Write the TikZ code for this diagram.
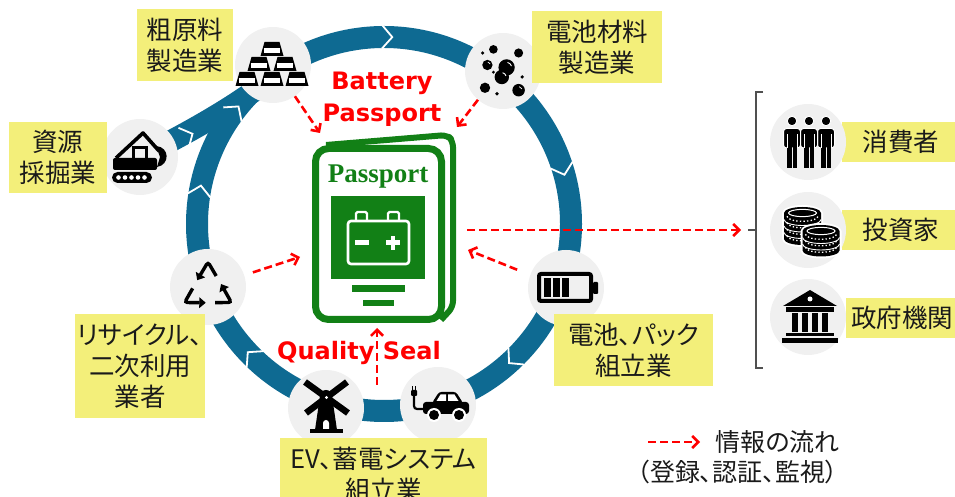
\documentclass[tikz,border=0pt]{standalone}
\usepackage{fontspec}
\newfontfamily\jpfont{Noto Sans CJK JP}[RawFeature=+palt]
\newfontfamily\tagfont{DejaVu Sans}
\newfontfamily\covfont{Liberation Serif}
\usetikzlibrary{arrows.meta}

\definecolor{ringblue}{RGB}{14,106,146}
\definecolor{boxyellow}{RGB}{243,239,122}
\definecolor{iconbg}{RGB}{240,240,240}
\definecolor{ppgreen}{RGB}{18,128,22}
\definecolor{flowred}{RGB}{255,0,0}
\definecolor{txt}{RGB}{26,26,26}
\definecolor{brk}{RGB}{80,80,80}

% one gold bar: #1 = centre x, #2 = base y
\newcommand\goldbar[2]{%
  \fill (#1-11.5,#2) -- (#1+11.5,#2) -- (#1+7.5,#2+14) -- (#1-7.5,#2+14) -- cycle;
  \fill[white] (#1-8,#2+2.5) rectangle (#1+8,#2+8);}

% one standing figure centred at x = #1
\newcommand\drawperson[1]{%
  \filldraw[draw=white, line width=1pt] (#1,21) circle (4.8);
  \filldraw[draw=white, line width=1pt, rounded corners=3pt]
    (#1-8.5,-6) -- (#1-8.5,13.5) -- (#1+8.5,13.5) -- (#1+8.5,-6) -- cycle;
  \fill (#1-5.3,-26) rectangle (#1-0.5,-4);
  \fill (#1+0.5,-26) rectangle (#1+5.3,-4);
  \draw[white, line width=0.9pt] (#1-5,-6) -- (#1-5,8) (#1+5,-6) -- (#1+5,8);}

% stack of coins: #1 x, #2 top y, #3 layers, #4 inner seams
\newcommand\coinstack[4]{%
  \fill[white] (#1-20.5,#2) -- (#1-20.5,#2-#3*6.5) arc (180:360:20.5 and 8)
    -- (#1+20.5,#2) arc (0:180:20.5 and 8) -- cycle;
  \fill (#1-18.5,#2) -- (#1-18.5,#2-#3*6.5) arc (180:360:18.5 and 6)
    -- (#1+18.5,#2) arc (0:180:18.5 and 6) -- cycle;
  \draw[white, line width=1pt] (#1,#2) ellipse (14 and 3.6);
  \foreach \k in {#4}
    \draw[white, line width=0.9pt] (#1-18.5,#2-\k*6.5) arc (180:360:18.5 and 6);
  \foreach \k in {1,...,#3}
    \draw[white, line width=1.3pt, dash pattern=on 1.4pt off 2.2pt]
      (#1-15.5,#2-\k*6.5+3.2) arc (180:360:15.5 and 5);}

\begin{document}
\begin{tikzpicture}[x=1pt,y=1pt,
  lbl/.style={fill=boxyellow, inner sep=0pt, align=center, text=txt,
    font=\jpfont\fontsize{25.5}{31}\selectfont},
  disc/.style={circle, fill=iconbg, minimum size=76pt, inner sep=0pt},
  band/.style={draw=ringblue, line width=22pt},
  chev/.style={white, line width=1.8pt, line join=miter},
  flow/.style={draw=flowred, line width=2.6pt, dash pattern=on 8pt off 4pt,
    -{Straight Barb[length=6pt,width=12pt]}},
  tag/.style={text=flowred, align=center,
    font=\tagfont\bfseries\fontsize{24}{32}\selectfont},
  bracketline/.style={draw=brk, line width=1.3pt},
  plain/.style={text=txt, font=\jpfont\fontsize{25}{30}\selectfont},
]
\useasboundingbox (0,0) rectangle (955,497);
\clip (0,0) rectangle (955,497);

% ---- value-chain ring and the mining branch ----
\draw[band] (384,273) circle (187);
\draw[band] (140,340) .. controls (180,360) and (220,382) .. (254,406);
\foreach \a in {142.6,169.7,89,16.8,-46.5,224.8}
  \draw[chev, shift={(384,273)}, rotate=\a, shift={(187,0)}]
    (-11.5,5) -- (0,-5) -- (11.5,5);
\draw[chev, shift={(188,361)}, rotate=116] (-11.5,5) -- (0,-5) -- (11.5,5);

% ---- stage discs ----
\node[disc] (c-mine) at (140,340) {};
\node[disc] (c-raw)  at (273,432) {};
\node[disc] (c-mat)  at (503,426) {};
\node[disc] (c-bat)  at (566,209) {};
\node[disc] (c-car)  at (438,92) {};
\node[disc] (c-mill) at (326,89) {};
\node[disc] (c-rec)  at (208,210) {};

% excavator
\begin{scope}[shift={(140,340)}]
  \fill[rounded corners=5.5pt] (-28,-26) rectangle (12,-15);
  \foreach \x in {-21.5,-15,-8.5,-2,4.5} \fill[white] (\x,-20.5) circle (2.3);
  \fill[rounded corners=2pt] (-27,-13) rectangle (17,-1);
  \draw[line width=3pt] (-6.5,-1) -- (-6.5,9) -- (6.5,9) -- (6.5,-1);
  \draw[line width=3.6pt, line join=round] (-24,-1) -- (3,24) -- (19,6);
  \fill (16,11) .. controls (30,10) and (30,-8) .. (17,-10) -- (20,0) -- cycle;
\end{scope}

% gold bars
\begin{scope}[shift={(273,432)}]
  \goldbar{-26}{-21} \goldbar{-1}{-21} \goldbar{24}{-21}
  \goldbar{-14}{-6} \goldbar{12}{-6}
  \goldbar{-1}{9}
\end{scope}

% material particles
\begin{scope}[shift={(503,426)}, scale=1.2]
  \foreach \x/\y/\r in {-8/18/3.6, 13/15/3.8, -17/15/1.5, -13/5/4.3, 3/3/6.8,
      -1/-5/6, -15/-14/4.3, 13/-16/5.2, -5/-19/1.5, 16/-5/1.5, -8/-1/1.3}
    \fill (\x,\y) circle (\r);
  \draw[white, line width=0.9pt] (3,3) ++(15:4.2) arc (15:80:4.2);
  \draw[white, line width=0.9pt] (-1,-5) ++(15:3.6) arc (15:80:3.6);
  \draw[white, line width=0.7pt] (13,-16) ++(20:3) arc (20:80:3);
  \draw[white, line width=0.7pt] (-13,5) ++(20:2.5) arc (20:80:2.5);
\end{scope}

% recycling symbol
\begin{scope}[shift={(208,208)}]
  \foreach \r in {0,120,240}
    \draw[line width=3.4pt, rounded corners=3pt, rotate=\r,
          -{Triangle[length=6.5pt,width=10.5pt]}]
      (8.2,13) -- (0,27) -- (-10.8,8.8);
\end{scope}

% windmill
\begin{scope}[shift={(326,89)}]
  \draw[line width=6.5pt] (-21,26) -- (22,-5);
  \draw[line width=6.5pt] (21,26) -- (-20,-5);
  \fill (-6,12) -- (6,12) -- (11,-22) -- (-11,-22) -- cycle;
  \fill (-6,12) arc (180:0:6);
  \fill (-16,-25) rectangle (17,-21);
  \fill[white] (-3,-21) -- (-3,-15) arc (180:0:3) -- (3,-21) -- cycle;
  \fill[white] (0.5,10.5) circle (1.6);
\end{scope}

% electric car
\begin{scope}[shift={(438,92)}]
  \fill[rounded corners=3pt] (-15,-9) rectangle (31,3);
  \fill[rounded corners=2.5pt] (-6,2) -- (1,13) -- (18,13) -- (25,2) -- cycle;
  \fill[white] (-1.5,4) -- (2.5,10.5) -- (8,10.5) -- (8,4) -- cycle;
  \fill[white] (10,4) -- (10,10.5) -- (16.5,10.5) -- (20.5,4) -- cycle;
  \fill[white] (-4,-10) circle (7);  \fill (-4,-10) circle (5);
  \fill[white] (21,-10) circle (7);  \fill (21,-10) circle (5);
  \draw[line width=2.2pt, rounded corners=3pt] (-15,-4) -- (-24,-4) -- (-24,10);
  \fill[rounded corners=1pt] (-27,9) rectangle (-21,15);
  \draw[line width=1.5pt] (-25.5,15) -- (-25.5,19) (-22.5,15) -- (-22.5,19);
\end{scope}

% battery
\begin{scope}[shift={(566,209)}]
  \draw[line width=4pt, rounded corners=2pt] (-27,-13) rectangle (25,14);
  \fill[rounded corners=1pt] (27,-6) rectangle (32,6);
  \fill (-22,-9) rectangle (-15,10);
  \fill (-13,-9) rectangle (-6,10);
  \fill (-4,-9) rectangle (3,10);
\end{scope}

% ---- stage labels ----
\node[lbl, minimum width=96pt,  minimum height=72pt]  (b-raw)  at (185,452)   {粗原料\\製造業};
\node[lbl, minimum width=98pt,  minimum height=71pt]  (b-mine) at (58,339.5)  {資源\\採掘業};
\node[lbl, minimum width=130pt, minimum height=72pt]  (b-mat)  at (597,450)   {電池材料\\製造業};
\node[lbl, minimum width=159pt, minimum height=72pt]  (b-bat)  at (633.5,147) {電池、パック\\組立業};
\node[lbl, minimum width=207pt, minimum height=73pt]  (b-ev)   at (383.5,22.5) {EV、蓄電システム\\組立業};
\node[lbl, minimum width=130pt, minimum height=104pt] (b-rec)  at (140,131)   {リサイクル、\\二次利用\\業者};

% ---- passport ----
\draw[ppgreen, line width=6pt, line join=round, rounded corners=6pt]
  (326,352) -- (447,362) -- (453,356) -- (453,190) -- (441,177);
\draw[ppgreen, line width=7pt, fill=white, rounded corners=13pt]
  (315.5,177.5) rectangle (441.5,348.5);
\node[text=ppgreen, font=\covfont\bfseries\fontsize{27}{27}\selectfont]
  (pp-title) at (378,320) {Passport};
\fill[ppgreen] (331,218) rectangle (425,301);
\draw[white, line width=2.6pt, rounded corners=3pt] (348,233) rectangle (409,276);
\draw[white, line width=2.4pt, rounded corners=1.5pt] (356,276) -- (356,285) -- (367,285) -- (367,276);
\draw[white, line width=2.4pt, rounded corners=1.5pt] (388,276) -- (388,285) -- (399,285) -- (399,276);
\fill[white] (355,252) rectangle (369,256.5);
\fill[white] (386,252) rectangle (400,256.5);
\fill[white] (390.8,247.3) rectangle (395.2,261.2);
\fill[ppgreen] (352,205) rectangle (405,212);
\fill[ppgreen] (363,191) rectangle (394,197);

\node[tag] (tag-bp) at (382,398) {Battery\\Passport};
\node[tag] (tag-qs) at (359,144) {Quality Seal};

% ---- stakeholders ----
\node[lbl, minimum width=118pt, minimum height=40pt] (b-user) at (901,355) {消費者};
\node[lbl, minimum width=118pt, minimum height=40pt] (b-inv)  at (901,267) {投資家};
\node[lbl, minimum width=112pt, minimum height=40pt] (b-gov)  at (902,179) {政府機関};
\node[disc] (c-user) at (808,355) {};
\node[disc] (c-inv)  at (808,267) {};
\node[disc] (c-gov)  at (808,180) {};

\begin{scope}[shift={(808,355)}]
  \drawperson{-16} \drawperson{18} \drawperson{1}
\end{scope}
\begin{scope}[shift={(808,267)}]
  \coinstack{-5.5}{17}{4}{1,2,3}
  \coinstack{13}{-1}{3}{1,2}
\end{scope}
\begin{scope}[shift={(808,180)}]
  \fill (-25,11) -- (2,27) -- (29,11) -- cycle;
  \fill[white] (2,18) circle (2.5);
  \fill (-22,5) rectangle (26,9.5);
  \foreach \x in {-13,-3,7,17} \fill (\x-3,-15) rectangle (\x+3,4);
  \fill (-22,-19.5) rectangle (26,-16);
  \fill (-26,-26) rectangle (30,-21);
\end{scope}

\coordinate (brk-top) at (763,405);
\coordinate (brk-bot) at (763,129);
\coordinate (brk-mid) at (748,267);
\draw[bracketline] (brk-top) -- (756,405) -- (756,129) -- (brk-bot);
\draw[bracketline] (brk-mid) -- (756,267);

% ---- information flows ----
\coordinate (pp-nw)  at (320,364);
\coordinate (pp-ne)  at (457,370);
\coordinate (pp-w)   at (300,240);
\coordinate (pp-e)   at (468,247);
\coordinate (pp-s)   at (377,169);
\coordinate (qs-foot) at (377,112);
\coordinate (pp-out) at (467,267);
\coordinate (brk-in) at (741,267);

\draw[flow] (c-raw.-55) -- (pp-nw);
\draw[flow] (c-mat.-131) -- (pp-ne);
\draw[flow, shorten <=9pt] (c-rec.18) -- (pp-w);
\draw[flow, shorten <=14pt] (c-bat.160) -- (pp-e);
\draw[flow] (qs-foot) -- (pp-s);
\draw[flow] (pp-out) -- (brk-in);

% ---- key ----
\coordinate (key-a) at (648,55);
\coordinate (key-b) at (700,55);
\draw[flow] (key-a) -- (key-b);
\node[plain, anchor=west] (key-1) at (712,55) {情報の流れ};
\node[plain, anchor=west] (key-2) at (634,25) {（登録、認証、監視）};
\end{tikzpicture}
\end{document}
